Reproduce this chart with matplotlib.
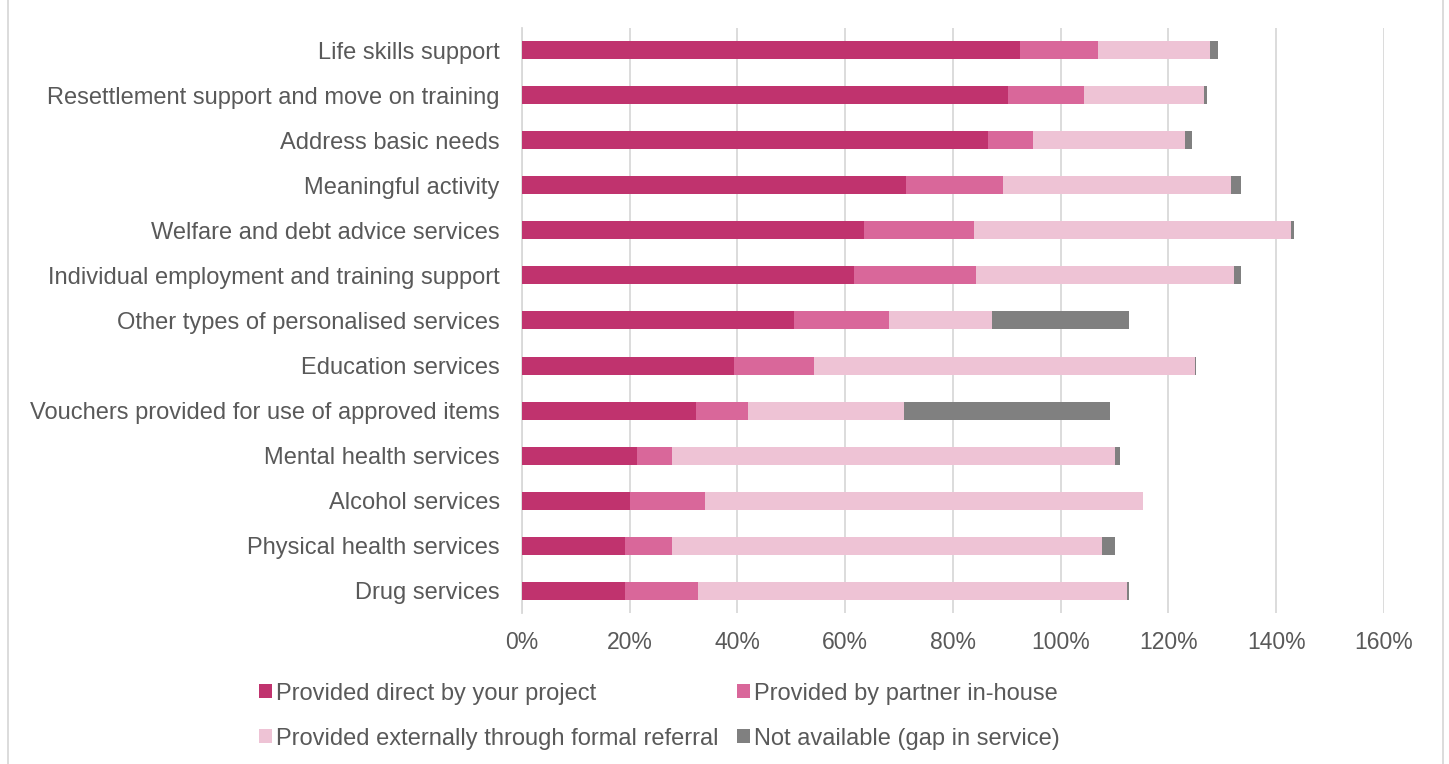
import matplotlib.pyplot as plt
from matplotlib.lines import Line2D
from matplotlib.ticker import FuncFormatter

plt.rcParams['font.family'] = ['Liberation Sans', 'DejaVu Sans']

services = [
    "Life skills support",
    "Resettlement support and move on training",
    "Address basic needs",
    "Meaningful activity",
    "Welfare and debt advice services",
    "Individual employment and training support",
    "Other types of personalised services",
    "Education services",
    "Vouchers provided for use of approved items",
    "Mental health services",
    "Alcohol services",
    "Physical health services",
    "Drug services",
]
direct = [92.5, 90.3, 86.6, 71.3, 63.5, 61.7, 50.5, 39.4, 32.4, 21.3, 20.0, 19.1, 19.1]
partner = [14.4, 14.1, 8.2, 17.9, 20.5, 22.5, 17.7, 14.9, 9.5, 6.6, 13.9, 8.7, 13.5]
external = [20.8, 22.2, 28.3, 42.4, 58.8, 47.9, 19.1, 70.7, 29.0, 82.2, 81.4, 79.9, 79.8]
gap = [1.5, 0.6, 1.3, 1.8, 0.5, 1.3, 25.4, 0.1, 38.2, 0.9, 0.0, 2.4, 0.3]

series = [
    ("Provided direct by your project", direct, "#C0336E"),
    ("Provided by partner in-house", partner, "#D9679A"),
    ("Provided externally through formal referral", external, "#EEC3D5"),
    ("Not available (gap in service)", gap, "#808080"),
]

text_col = "#595959"
fig = plt.figure(figsize=(14.49, 7.64), dpi=100)
ax = fig.add_axes([0.3602, 0.1976, 0.5949, 0.7658])

y = list(range(len(services)))
left = [0.0] * len(services)
handles = []
for label, vals, col in series:
    bars = ax.barh(y, vals, left=left, height=0.4, color=col, label=label, zorder=3)
    handles.append(bars)
    left = [l + v for l, v in zip(left, vals)]

ax.set_yticks(y)
ax.set_yticklabels(services)
ax.set_ylim(len(services) - 0.5, -0.5)
ax.set_xlim(0, 160)
ax.set_xticks(range(0, 161, 20))
ax.xaxis.set_major_formatter(FuncFormatter(lambda v, p: f"{v:.0f}%"))
ax.tick_params(axis='both', length=0, colors=text_col)
ax.tick_params(axis='y', labelsize=17, pad=16)
ax.tick_params(axis='x', labelsize=16.5, pad=13)
ax.grid(axis='x', color="#D9D9D9", linewidth=1.3, zorder=0)
for s in ["top", "right", "bottom"]:
    ax.spines[s].set_visible(False)
ax.spines["left"].set_color("#D9D9D9")
ax.spines["left"].set_linewidth(1.3)

# legend fills column-wise, so reorder to get two items per row
order = [0, 2, 1, 3]
leg = fig.legend([handles[i] for i in order], [series[i][0] for i in order],
                 ncol=2, loc="upper left", bbox_to_anchor=(0.172, 0.119),
                 frameon=False, fontsize=17, handlelength=0.55, handleheight=0.55,
                 handletextpad=0.2, columnspacing=0.75, labelspacing=0.98,
                 borderaxespad=0)
for t in leg.get_texts():
    t.set_color(text_col)

# thin chart border at both sides
fig.add_artist(Line2D([0.0052, 0.0052], [0, 1], color="#D9D9D9", lw=1.3))
fig.add_artist(Line2D([0.9958, 0.9958], [0, 1], color="#D9D9D9", lw=1.3))

plt.savefig("out.png", dpi=100)
